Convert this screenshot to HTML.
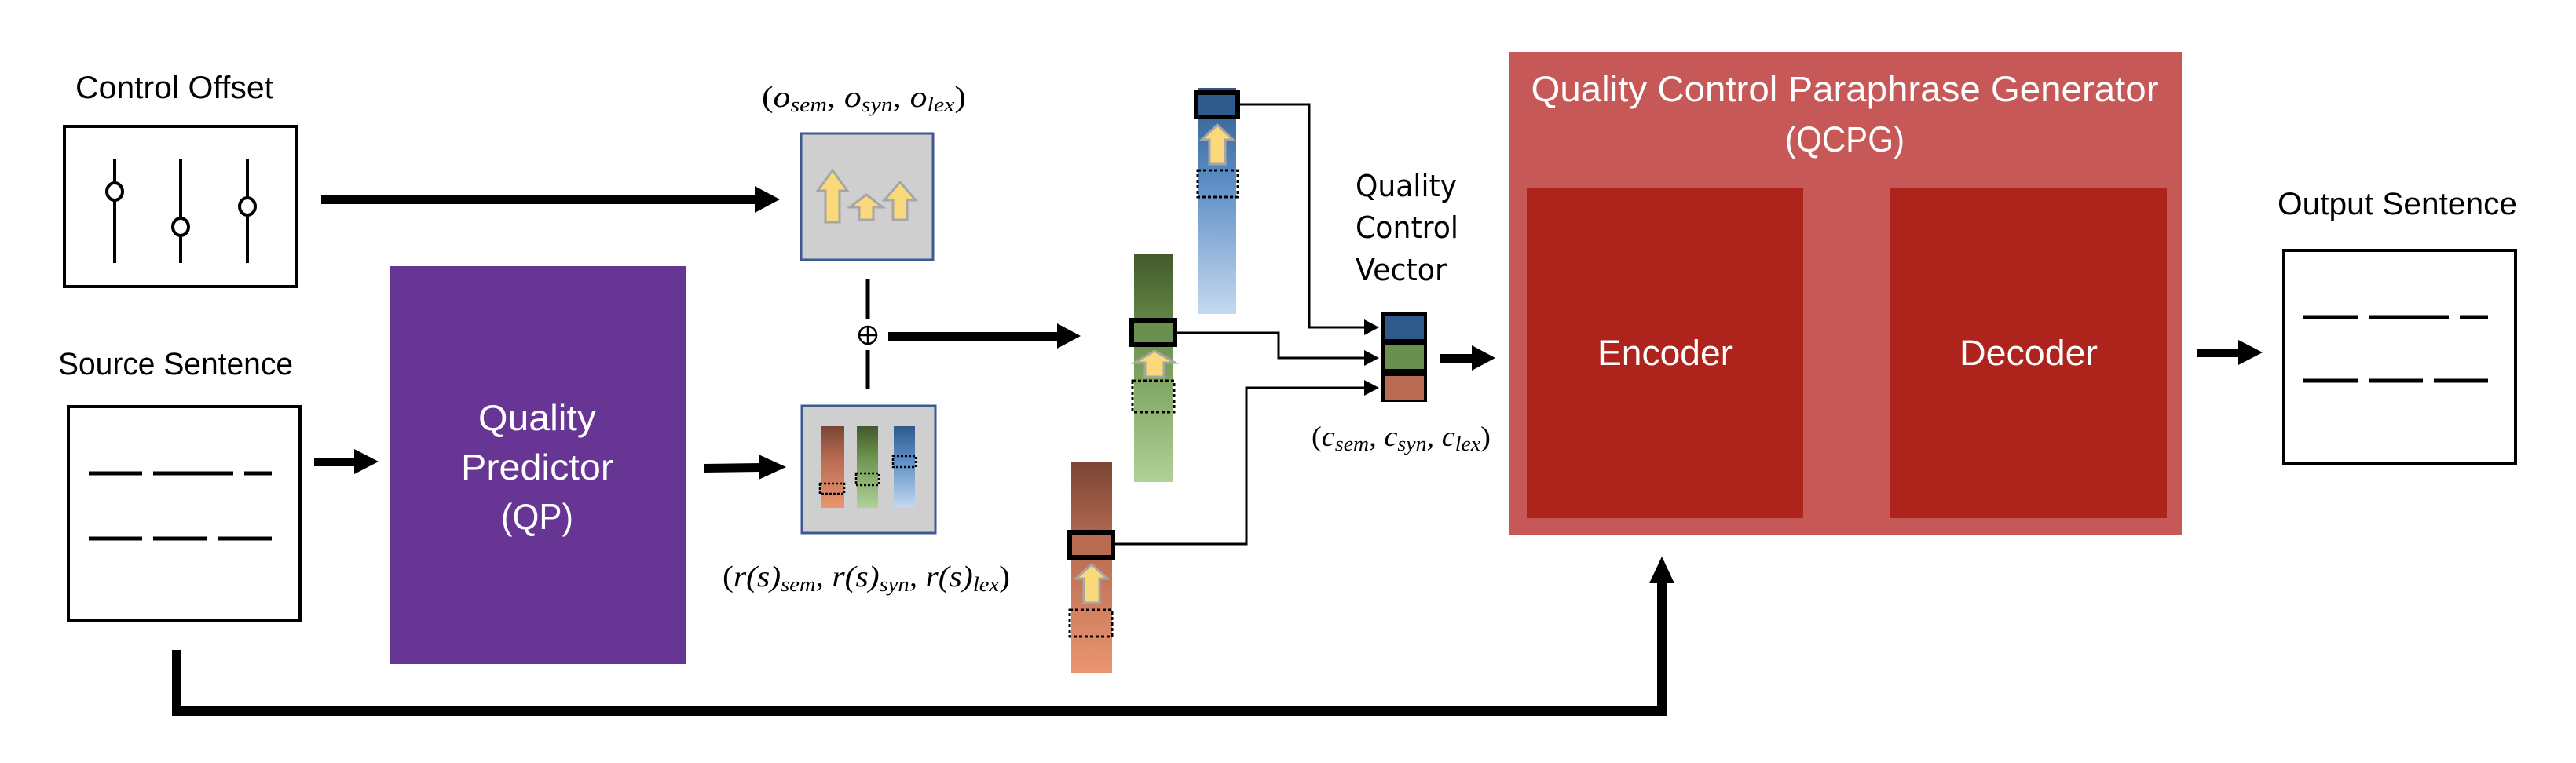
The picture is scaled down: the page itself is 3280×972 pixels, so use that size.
<!DOCTYPE html>
<html><head><meta charset="utf-8"><style>html,body{margin:0;padding:0;background:#fff}svg{display:block}</style></head>
<body>
<svg width="3280" height="972" viewBox="0 0 3280 972" xmlns="http://www.w3.org/2000/svg">
<defs>
<linearGradient id="gb" x1="0" y1="0" x2="0" y2="1"><stop offset="0" stop-color="#2e5a8c"/><stop offset="0.4" stop-color="#5a8cc4"/><stop offset="1" stop-color="#c4d9ef"/></linearGradient>
<linearGradient id="gg" x1="0" y1="0" x2="0" y2="1"><stop offset="0" stop-color="#43592b"/><stop offset="0.4" stop-color="#6f9650"/><stop offset="1" stop-color="#b1d198"/></linearGradient>
<linearGradient id="gr" x1="0" y1="0" x2="0" y2="1"><stop offset="0" stop-color="#7a4535"/><stop offset="0.4" stop-color="#b86c52"/><stop offset="1" stop-color="#ea9570"/></linearGradient>
</defs>
<g font-family="Liberation Sans, sans-serif">
<text x="96" y="125" font-size="40" textLength="252" lengthAdjust="spacingAndGlyphs">Control Offset</text>
<text x="74" y="477" font-size="40" textLength="299" lengthAdjust="spacingAndGlyphs">Source Sentence</text>
<text x="2900" y="273" font-size="40" textLength="305" lengthAdjust="spacingAndGlyphs">Output Sentence</text>
</g>
<rect x="82" y="161" width="295" height="204" fill="#fff" stroke="#000" stroke-width="4"/>
<g stroke="#000" stroke-width="4" fill="#fff">
<line x1="146" y1="203" x2="146" y2="335"/><line x1="230" y1="203" x2="230" y2="335"/><line x1="315" y1="203" x2="315" y2="335"/>
<ellipse cx="146" cy="244" rx="10" ry="11"/><ellipse cx="230" cy="289" rx="10" ry="11"/><ellipse cx="315" cy="263" rx="10" ry="11"/>
</g>
<g fill="#000">
<rect x="409" y="249" width="555" height="11"/><polygon points="961,237 993,254 961,271"/>
<rect x="1131" y="423" width="218" height="11"/><polygon points="1346,412 1376,428 1346,444"/>
<rect x="400" y="583" width="55" height="11"/><polygon points="451,572 482,588 451,604"/>
<polygon points="896,591 969,590 969,601 896,602"/><polygon points="966,579 1001,595 966,611"/>
<rect x="1833" y="451" width="44" height="11"/><polygon points="1874,440 1904,456 1874,472"/>
<rect x="2309" y="449" width="55" height="11"/><polygon points="2361,438 2391,454 2361,470"/>
<rect x="2797" y="444" width="56" height="11"/><polygon points="2850,433 2881,449 2850,465"/>
</g>
<rect x="87" y="518" width="295" height="273" fill="#fff" stroke="#000" stroke-width="4"/>
<g stroke="#000" stroke-width="5">
<line x1="113" y1="603" x2="181" y2="603"/><line x1="195" y1="603" x2="297" y2="603"/><line x1="311" y1="603" x2="346" y2="603"/>
<line x1="113" y1="686" x2="181" y2="686"/><line x1="195" y1="686" x2="264" y2="686"/><line x1="278" y1="686" x2="346" y2="686"/>
</g>
<rect x="496" y="339" width="377" height="507" fill="#673695"/>
<g font-family="Liberation Sans, sans-serif" font-size="46" fill="#fff" text-anchor="middle">
<text x="684" y="548" textLength="150" lengthAdjust="spacingAndGlyphs">Quality</text>
<text x="684" y="611" textLength="194" lengthAdjust="spacingAndGlyphs">Predictor</text>
<text x="684" y="674" textLength="92" lengthAdjust="spacingAndGlyphs">(QP)</text>
</g>
<rect x="1020" y="170" width="168" height="161" fill="#d0cfd0" stroke="#3c5a8f" stroke-width="3"/>
<g fill="#fad97a" stroke="#a6a6a6" stroke-width="3">
<polygon points="1060,217 1079,243 1069,243 1069,283 1051,283 1051,243 1041,243"/>
<polygon points="1103,248 1124,264 1112,264 1112,280 1094,280 1094,264 1082,264"/>
<polygon points="1146,232 1166,255 1155,255 1155,280 1137,280 1137,255 1126,255"/>
</g>
<rect x="1021" y="517" width="170" height="162" fill="#d0cfd0" stroke="#3c5a8f" stroke-width="3"/>
<rect x="1046" y="543" width="29" height="104" fill="url(#gr)"/>
<rect x="1091" y="543" width="27" height="104" fill="url(#gg)"/>
<rect x="1138" y="543" width="27" height="104" fill="url(#gb)"/>
<g fill="none" stroke="#000" stroke-width="2.5" stroke-dasharray="3,2">
<rect x="1044" y="616" width="31" height="13"/><rect x="1090" y="603" width="29" height="15"/><rect x="1137" y="581" width="29" height="14"/>
</g>
<g stroke="#000" stroke-width="5"><line x1="1105" y1="355" x2="1105" y2="406"/><line x1="1105" y1="446" x2="1105" y2="496"/></g>
<circle cx="1105" cy="427" r="11" fill="none" stroke="#000" stroke-width="2.5"/>
<line x1="1094" y1="427" x2="1116" y2="427" stroke="#000" stroke-width="2.5"/>
<line x1="1105" y1="416" x2="1105" y2="438" stroke="#000" stroke-width="2.5"/>
<g font-family="Liberation Serif, DejaVu Serif, serif" font-style="italic">
<text x="970" y="136" font-size="38" textLength="260" lengthAdjust="spacingAndGlyphs"><tspan font-style="normal">(</tspan>o<tspan font-size="26" dy="6">sem</tspan><tspan dy="-6">, o</tspan><tspan font-size="26" dy="6">syn</tspan><tspan dy="-6">, o</tspan><tspan font-size="26" dy="6">lex</tspan><tspan dy="-6" font-style="normal">)</tspan></text>
<text x="920" y="747" font-size="38" textLength="366" lengthAdjust="spacingAndGlyphs"><tspan font-style="normal">(</tspan>r(s)<tspan font-size="26" dy="6">sem</tspan><tspan dy="-6">, r(s)</tspan><tspan font-size="26" dy="6">syn</tspan><tspan dy="-6">, r(s)</tspan><tspan font-size="26" dy="6">lex</tspan><tspan dy="-6" font-style="normal">)</tspan></text>
<text x="1670" y="568" font-size="36" textLength="228" lengthAdjust="spacingAndGlyphs"><tspan font-style="normal">(</tspan>c<tspan font-size="26" dy="6">sem</tspan><tspan dy="-6">, c</tspan><tspan font-size="26" dy="6">syn</tspan><tspan dy="-6">, c</tspan><tspan font-size="26" dy="6">lex</tspan><tspan dy="-6" font-style="normal">)</tspan></text>
</g>
<rect x="1526" y="112" width="48" height="288" fill="url(#gb)"/>
<rect x="1444" y="324" width="49" height="290" fill="url(#gg)"/>
<rect x="1364" y="588" width="52" height="269" fill="url(#gr)"/>
<g fill="#fad97a" stroke="#a6a6a6" stroke-width="3">
<polygon points="1550,159 1570,178 1560,178 1560,209 1540,209 1540,178 1530,178"/>
<polygon points="1470,447 1496,462 1482,462 1482,480 1458,480 1458,462 1445,462"/>
<polygon points="1390,719 1410,737 1400,737 1400,768 1380,768 1380,737 1370,737"/>
</g>
<g fill="none" stroke="#000" stroke-width="3" stroke-dasharray="4,3">
<rect x="1525" y="217" width="51" height="34"/><rect x="1442" y="485" width="53" height="40"/><rect x="1362" y="777" width="54" height="34"/>
</g>
<g stroke="#000" stroke-width="6">
<rect x="1523" y="118" width="53" height="31" fill="#2e5a8c"/>
<rect x="1441" y="408" width="55" height="31" fill="#6a8f4e"/>
<rect x="1362" y="678" width="55" height="32" fill="#b96c52"/>
</g>
<g fill="none" stroke="#000" stroke-width="3">
<polyline points="1579,133 1667,133 1667,417 1740,417"/>
<polyline points="1499,424 1628,424 1628,456 1740,456"/>
<polyline points="1420,693 1587,693 1587,494 1740,494"/>
</g>
<g fill="#000">
<polygon points="1737,407 1756,417 1737,427"/><polygon points="1737,446 1756,456 1737,466"/><polygon points="1737,484 1756,494 1737,504"/>
</g>
<rect x="1759" y="398" width="58" height="114" fill="#000"/>
<rect x="1763" y="402" width="50" height="30" fill="#2e5a8c"/>
<rect x="1763" y="440" width="50" height="30" fill="#6a8f4e"/>
<rect x="1763" y="479" width="50" height="31" fill="#b96c52"/>
<g font-family="DejaVu Sans, Liberation Sans, sans-serif" font-size="38">
<text x="1726" y="250" textLength="129" lengthAdjust="spacingAndGlyphs">Quality</text>
<text x="1726" y="303" textLength="131" lengthAdjust="spacingAndGlyphs">Control</text>
<text x="1726" y="357" textLength="116" lengthAdjust="spacingAndGlyphs">Vector</text>
</g>
<rect x="1921" y="66" width="857" height="616" fill="#c75858"/>
<rect x="1944" y="239" width="352" height="421" fill="#ae231b"/>
<rect x="2407" y="239" width="352" height="421" fill="#ae231b"/>
<g font-family="Liberation Sans, sans-serif" font-size="45" fill="#fff" text-anchor="middle">
<text x="2349" y="129" textLength="799" lengthAdjust="spacingAndGlyphs">Quality Control Paraphrase Generator</text>
<text x="2349" y="193" textLength="152" lengthAdjust="spacingAndGlyphs">(QCPG)</text>
<text x="2120" y="465" textLength="172" lengthAdjust="spacingAndGlyphs">Encoder</text>
<text x="2583" y="465" textLength="176" lengthAdjust="spacingAndGlyphs">Decoder</text>
</g>
<rect x="2908" y="319" width="295" height="271" fill="#fff" stroke="#000" stroke-width="4"/>
<g stroke="#000" stroke-width="5">
<line x1="2933" y1="404" x2="3002" y2="404"/><line x1="3016" y1="404" x2="3118" y2="404"/><line x1="3132" y1="404" x2="3168" y2="404"/>
<line x1="2933" y1="485" x2="3002" y2="485"/><line x1="3016" y1="485" x2="3085" y2="485"/><line x1="3099" y1="485" x2="3168" y2="485"/>
</g>
<polyline points="225,828 225,906 2116,906 2116,735" fill="none" stroke="#000" stroke-width="12"/>
<polygon points="2116,709 2132,743 2100,743" fill="#000"/>
</svg>
</body></html>
